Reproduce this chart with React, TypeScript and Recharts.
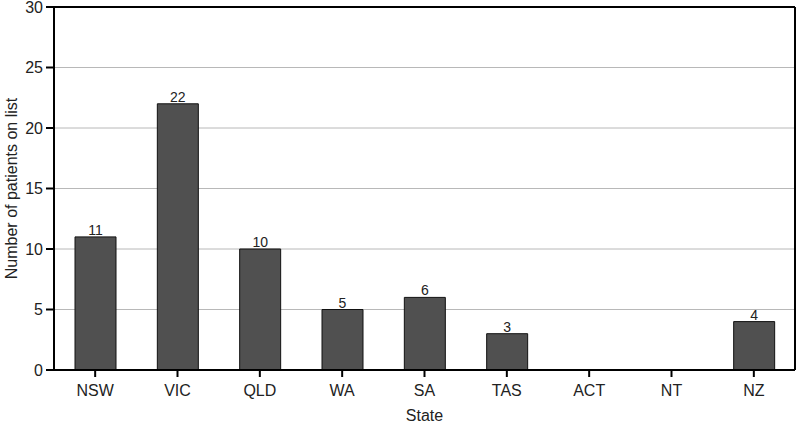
import React from "react";
import {
  BarChart,
  Bar,
  XAxis,
  YAxis,
  CartesianGrid,
  LabelList,
} from "recharts";

const states = ["NSW", "VIC", "QLD", "WA", "SA", "TAS", "ACT", "NT", "NZ"];
const patients = [11, 22, 10, 5, 6, 3, 0, 0, 4];
const yTicks = [0, 5, 10, 15, 20, 25, 30];

const data = states.map((name, i) => ({ name, patients: patients[i] }));

const font = "'Liberation Sans', Arial, sans-serif";

export default function App() {
  return (
    <div style={{ position: "absolute", left: 0, top: 0, fontFamily: font }}>
      <BarChart
        width={800}
        height={425}
        data={data}
        margin={{ top: 0, right: 0, bottom: 0, left: 0 }}
        barCategoryGap="25%"
      >
        <CartesianGrid vertical={false} stroke="#b8b8b8" strokeWidth={1} />
        <XAxis
          dataKey="name"
          height={55}
          stroke="#000"
          strokeWidth={2}
          tickSize={7}
          tick={{ fill: "#222", fontSize: 16, fontFamily: font }}
          tickMargin={8}
          label={{
            value: "State",
            position: "insideBottom",
            offset: 4,
            fill: "#222",
            fontSize: 16,
            fontFamily: font,
          }}
        />
        <XAxis
          xAxisId="top"
          dataKey="name"
          orientation="top"
          height={7}
          tick={false}
          tickLine={false}
          stroke="#000"
          strokeWidth={2}
        />
        <YAxis
          width={54}
          domain={[0, 30]}
          ticks={yTicks}
          interval={0}
          stroke="#000"
          strokeWidth={2}
          tickSize={8}
          tickMargin={3}
          tick={{ fill: "#222", fontSize: 16, fontFamily: font }}
          label={{
            value: "Number of patients on list",
            angle: -90,
            position: "insideLeft",
            offset: 11,
            style: { textAnchor: "middle" },
            fill: "#222",
            fontSize: 16,
            fontFamily: font,
          }}
        />
        <YAxis
          yAxisId="right"
          orientation="right"
          width={5}
          domain={[0, 30]}
          tick={false}
          tickLine={false}
          stroke="#000"
          strokeWidth={2}
        />
        <Bar
          dataKey="patients"
          fill="#505050"
          stroke="#111"
          strokeWidth={1}
          barSize={41}
          isAnimationActive={false}
        >
          <LabelList
            dataKey="patients"
            position="top"
            offset={2}
            fill="#222"
            fontSize={14}
            fontFamily={font}
            formatter={(v: any) => (v === 0 ? "" : v)}
          />
        </Bar>
      </BarChart>
    </div>
  );
}
